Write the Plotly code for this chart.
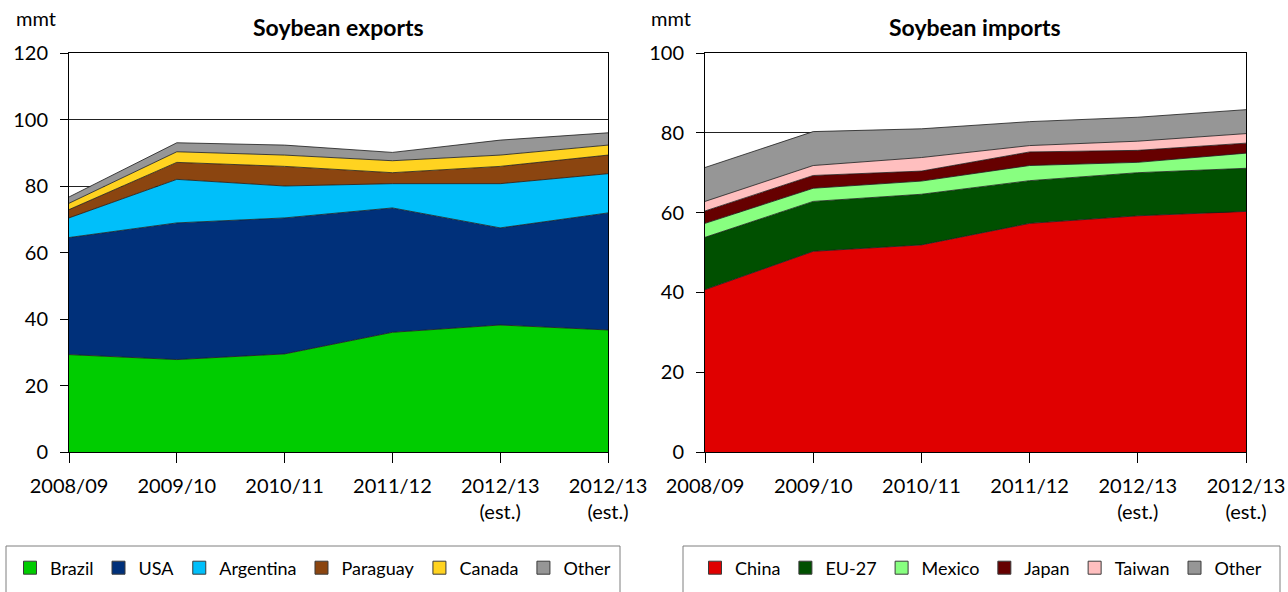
import plotly.graph_objects as go

# Marketing years shown on the x axis
seasons = ["2008/09", "2009/10", "2010/11", "2011/12", "2012/13<br>(est.)", "2012/13<br>(est.)"]

# Soybean exports by origin (million metric tons)
brazil = [29.3, 27.8, 29.5, 36.0, 38.2, 36.7]
usa = [35.2, 41.1, 40.9, 37.4, 29.2, 35.2]
argentina = [5.9, 13.1, 9.6, 7.3, 13.3, 11.8]
paraguay = [2.5, 5.1, 5.9, 3.3, 5.2, 5.6]
canada = [1.9, 3.2, 3.4, 3.6, 3.4, 3.0]
other_exp = [1.9, 2.7, 3.0, 2.5, 4.5, 3.7]

# Soybean imports by destination (million metric tons)
china = [40.7, 50.3, 51.9, 57.3, 59.2, 60.3]
eu27 = [13.1, 12.5, 12.7, 10.7, 10.8, 10.8]
mexico = [3.5, 3.3, 3.3, 3.8, 2.6, 3.8]
japan = [3.1, 3.2, 2.5, 3.4, 3.0, 2.5]
taiwan = [2.4, 2.5, 3.4, 1.6, 2.3, 2.4]
other_imp = [8.5, 8.5, 7.2, 6.0, 6.0, 6.0]

export_series = [
    ("Brazil", brazil, "#00CC00"),
    ("USA", usa, "#00307A"),
    ("Argentina", argentina, "#00BFFA"),
    ("Paraguay", paraguay, "#8B4510"),
    ("Canada", canada, "#FFD320"),
    ("Other", other_exp, "#969696"),
]
import_series = [
    ("China", china, "#E00000"),
    ("EU-27", eu27, "#005000"),
    ("Mexico", mexico, "#88FF80"),
    ("Japan", japan, "#660000"),
    ("Taiwan", taiwan, "#FFBFBF"),
    ("Other", other_imp, "#969696"),
]

FONT = "Lato, 'Open Sans', sans-serif"
W, H = 1288, 592
xs = list(range(len(seasons)))

fig = go.Figure()


def add_stack(series, xa, ya, group, legend):
    for name, vals, color in series:
        fig.add_trace(go.Scatter(
            x=xs, y=vals, name=name, xaxis=xa, yaxis=ya,
            mode="lines", stackgroup=group,
            line=dict(color="#1a1a1a", width=0.8),
            fillcolor=color, showlegend=False, hoverinfo="x+y+name",
        ))
    # legend swatches
    for name, vals, color in series:
        fig.add_trace(go.Scatter(
            x=[None], y=[None], name=name, xaxis=xa, yaxis=ya,
            mode="markers", legend=legend,
            marker=dict(symbol="square", size=13, color=color,
                        line=dict(color="#3a3a3a", width=1)),
        ))


add_stack(export_series, "x", "y", "exp", "legend")
add_stack(import_series, "x2", "y2", "imp", "legend2")

px = lambda v: v / W
py = lambda v: 1 - v / H

common_x = dict(
    range=[0, 5], tickmode="array", tickvals=xs, ticktext=seasons,
    showline=True, linecolor="black", linewidth=1, mirror=True,
    ticks="outside", ticklen=10, tickcolor="black", tickwidth=1,
    showgrid=False, zeroline=False, ticklabelstandoff=6,
    tickfont=dict(family=FONT, size=20, color="black"),
    fixedrange=True, automargin=False,
)
common_y = dict(
    showline=True, linecolor="black", linewidth=1, mirror=True,
    ticks="outside", ticklen=8, tickcolor="black", tickwidth=1,
    showgrid=True, gridcolor="#222222", gridwidth=1, zeroline=False,
    dtick=20, ticklabelstandoff=8,
    tickfont=dict(family=FONT, size=20, color="black"),
    fixedrange=True, automargin=False,
)

legend_style = dict(
    orientation="h", xanchor="center", y=py(568), yanchor="middle",
    traceorder="normal", bgcolor="rgba(0,0,0,0)",
    font=dict(family=FONT, size=18, color="black"),
)


def label(text, x, y, size):
    return dict(text=text, x=px(x), y=py(y), xref="paper", yref="paper",
                xanchor="center", yanchor="middle", showarrow=False,
                font=dict(family=FONT, size=size, color="black"))


fig.update_layout(
    width=W, height=H,
    margin=dict(l=0, r=0, t=0, b=0, autoexpand=False),
    paper_bgcolor="white", plot_bgcolor="white",
    font=dict(family=FONT, size=20, color="black"),
    xaxis=dict(domain=[px(69), px(608)], anchor="y", **common_x),
    yaxis=dict(domain=[py(452), py(53)], anchor="x", range=[0, 120], **common_y),
    xaxis2=dict(domain=[px(705), px(1246)], anchor="y2", **common_x),
    yaxis2=dict(domain=[py(452), py(53)], anchor="x2", range=[0, 100], **common_y),
    legend=dict(x=px(313), **legend_style),
    legend2=dict(x=px(981), **legend_style),
    shapes=[
        dict(type="rect", xref="paper", yref="paper", x0=px(6), x1=px(620),
             y0=-0.05, y1=py(546), line=dict(color="#7f7f7f", width=1)),
        dict(type="rect", xref="paper", yref="paper", x0=px(683), x1=px(1280),
             y0=-0.05, y1=py(546), line=dict(color="#7f7f7f", width=1)),
    ],
    annotations=[
        label("<b>Soybean exports</b>", 338, 27, 23),
        label("<b>Soybean imports</b>", 975, 27, 23),
        label("mmt", 36, 18, 20),
        label("mmt", 671, 18, 20),
    ],
)

fig.write_html("out.html")
